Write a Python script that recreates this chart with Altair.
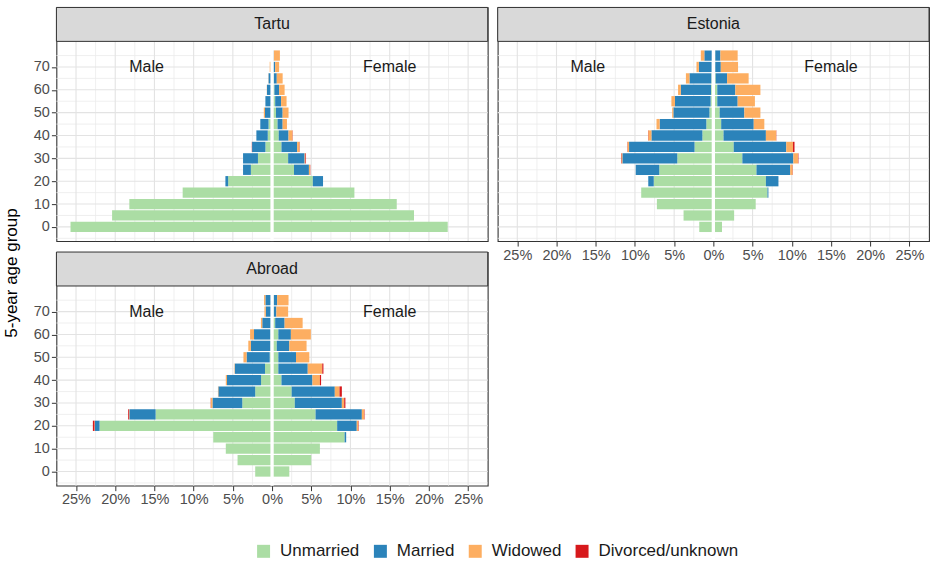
import altair as alt
import pandas as pd

FONT = "Liberation Sans"

# 5-year age groups (start of each group)
AGES = [0, 5, 10, 15, 20, 25, 30, 35, 40, 45, 50, 55, 60, 65, 70, 75]
STATUSES = ["Unmarried", "Married", "Widowed", "Divorced/unknown"]
COLORS = ["#abdda4", "#2b83ba", "#fdae61", "#d7191c"]

# Share of the population (%) per age group and marital status
tartu_male_unmarried = [25.7, 20.4, 18.2, 11.4, 5.6, 2.7, 1.8, 0.85, 0.55, 0.45, 0.15, 0.1, 0.1, 0.05, 0.05, 0.0]
tartu_male_married = [0, 0, 0, 0, 0.35, 1.0, 1.9, 1.7, 1.45, 1.05, 0.75, 0.75, 0.55, 0.4, 0.1, 0.0]
tartu_male_widowed = [0, 0, 0, 0, 0, 0, 0, 0, 0, 0, 0.15, 0, 0.02, 0.02, 0.15, 0.0]
tartu_male_divorced = [0, 0, 0, 0, 0, 0, 0, 0.03, 0, 0, 0, 0, 0, 0, 0, 0]

tartu_female_unmarried = [22.4, 18.1, 15.9, 10.5, 5.2, 2.8, 2.05, 1.2, 0.85, 0.7, 0.5, 0.4, 0.3, 0.2, 0.15, 0.1]
tartu_female_married = [0, 0, 0, 0, 1.3, 1.9, 2.1, 2.0, 1.25, 0.65, 0.85, 0.75, 0.6, 0.4, 0.25, 0.1]
tartu_female_widowed = [0, 0, 0, 0, 0, 0.15, 0.1, 0.3, 0.5, 0.55, 0.75, 0.7, 0.7, 0.75, 0.5, 0.8]
tartu_female_divorced = [0, 0, 0, 0, 0, 0.03, 0.08, 0.03, 0.03, 0, 0, 0, 0, 0, 0, 0]

estonia_male_unmarried = [1.8, 3.8, 7.2, 9.2, 7.6, 6.9, 4.6, 2.4, 1.4, 0.9, 0.5, 0.35, 0.3, 0.25, 0.2, 0.15]
estonia_male_married = [0, 0, 0, 0, 0.7, 3.0, 7.0, 8.35, 6.5, 5.95, 4.6, 4.55, 3.85, 2.8, 1.65, 1.0]
estonia_male_widowed = [0, 0, 0, 0, 0, 0, 0.12, 0.2, 0.4, 0.4, 0.15, 0.45, 0.35, 0.45, 0.3, 0.45]
estonia_male_divorced = [0, 0, 0, 0, 0, 0, 0.05, 0.03, 0.03, 0, 0, 0, 0, 0, 0, 0]

estonia_female_unmarried = [1.1, 2.65, 5.4, 6.9, 6.7, 5.5, 3.7, 2.6, 1.3, 1.0, 0.8, 0.5, 0.5, 0.3, 0.25, 0.25]
estonia_female_married = [0, 0, 0, 0.12, 1.6, 4.3, 6.5, 6.7, 5.4, 4.15, 3.15, 2.6, 2.3, 1.45, 0.7, 0.65]
estonia_female_widowed = [0, 0, 0, 0, 0, 0.3, 0.6, 0.85, 1.3, 1.35, 2.05, 2.2, 3.2, 2.75, 2.2, 2.2]
estonia_female_divorced = [0, 0, 0, 0, 0, 0.03, 0.05, 0.2, 0.03, 0, 0, 0, 0, 0, 0, 0]

abroad_male_unmarried = [2.15, 4.4, 5.9, 7.5, 22.0, 14.85, 3.8, 2.15, 1.4, 0.9, 0.3, 0.2, 0.2, 0.15, 0.1, 0.1]
abroad_male_married = [0, 0, 0, 0, 0.6, 3.35, 3.8, 4.7, 4.35, 3.85, 2.95, 2.5, 2.1, 1.1, 0.7, 0.75]
abroad_male_widowed = [0, 0, 0, 0, 0.05, 0.05, 0.2, 0.05, 0.15, 0.05, 0.4, 0.33, 0.5, 0.17, 0.17, 0.17]
abroad_male_divorced = [0, 0, 0, 0, 0.2, 0.1, 0.03, 0, 0, 0, 0, 0, 0, 0, 0, 0]

abroad_female_unmarried = [2.2, 5.0, 6.1, 9.25, 8.3, 5.55, 2.9, 2.5, 1.2, 0.8, 0.8, 0.6, 0.8, 0.4, 0.2, 0.2]
abroad_female_married = [0, 0, 0, 0.2, 2.5, 5.9, 6.0, 5.5, 3.95, 3.75, 2.25, 1.6, 1.6, 1.2, 0.35, 0.45]
abroad_female_widowed = [0, 0, 0, 0, 0.2, 0.3, 0.3, 0.6, 0.95, 1.85, 1.7, 2.2, 2.55, 2.3, 1.5, 1.45]
abroad_female_divorced = [0, 0, 0, 0, 0.05, 0.05, 0.15, 0.3, 0.15, 0.15, 0, 0, 0, 0, 0, 0]

X_TICKS = [-25, -20, -15, -10, -5, 0, 5, 10, 15, 20, 25]
X_MINOR = [-22.5, -17.5, -12.5, -7.5, -2.5, 2.5, 7.5, 12.5, 17.5, 22.5]
Y_TICKS = [0, 10, 20, 30, 40, 50, 60, 70]
Y_MINOR = [-5, 5, 15, 25, 35, 45, 55, 65, 75]

# panel geometry: strip on top of the plotting region, same view
W, H, STRIP_H = 432, 234, 34
PANEL_TOP = 81.2
X_DOMAIN = [-27.5, 27.5]
Y_DOMAIN = [-6.2, PANEL_TOP + STRIP_H * (PANEL_TOP + 6.2) / (H - STRIP_H)]
HALF_BAR = 2.25

LEGEND = alt.Legend(
    title=None, orient="none", legendX=199, legendY=536, direction="horizontal",
    symbolType="square", symbolSize=169, symbolStrokeWidth=0,
    labelFontSize=17, labelFont=FONT, labelColor="#1A1A1A",
    labelOffset=8, columnPadding=12,
)


def long_table(male, female):
    rows = []
    for sex, sign, groups in (("Male", -1, male), ("Female", 1, female)):
        for k, (status, vals) in enumerate(zip(STATUSES, groups)):
            for age, v in zip(AGES, vals):
                if v > 0:
                    rows.append(dict(sex=sex, age=age, status=status, order=k, value=sign * v))
    return pd.DataFrame(rows)


def panel(title, df, show_x, show_y, y_title=None):
    xscale = alt.Scale(domain=X_DOMAIN, nice=False, zero=False)
    yscale = alt.Scale(domain=Y_DOMAIN, nice=False, zero=False)
    xaxis = alt.Axis(values=X_TICKS, labelExpr="abs(datum.value) + '%'", title=None) if show_x else None
    yaxis = alt.Axis(values=Y_TICKS, title=None) if show_y else None

    def X(f):
        return alt.X(f, scale=xscale, axis=xaxis)

    def Y(f):
        return alt.Y(f, scale=yscale, axis=yaxis)

    grid = [
        alt.Chart(pd.DataFrame({"v": X_MINOR})).mark_rule(color="#EBEBEB", strokeWidth=0.8).encode(x=X("v:Q")),
        alt.Chart(pd.DataFrame({"v": Y_MINOR})).mark_rule(color="#EBEBEB", strokeWidth=0.8).encode(y=Y("v:Q")),
        alt.Chart(pd.DataFrame({"v": X_TICKS})).mark_rule(color="#E3E3E3", strokeWidth=1.1).encode(x=X("v:Q")),
        alt.Chart(pd.DataFrame({"v": Y_TICKS})).mark_rule(color="#E3E3E3", strokeWidth=1.1).encode(y=Y("v:Q")),
    ]

    bars = (
        alt.Chart(df)
        .transform_stack(
            stack="value", groupby=["sex", "age"], as_=["x0", "x1"],
            sort=[alt.SortField("order", order="ascending")],
        )
        .transform_calculate(ylo=f"datum.age - {HALF_BAR}", yhi=f"datum.age + {HALF_BAR}")
        .mark_rect()
        .encode(
            x=X("x0:Q"), x2="x1:Q", y=Y("ylo:Q"), y2="yhi:Q",
            color=alt.Color("status:N", scale=alt.Scale(domain=STATUSES, range=COLORS), legend=LEGEND),
        )
    )

    zero_line = (
        alt.Chart(pd.DataFrame({"v": [0]}))
        .mark_rule(color="white", strokeWidth=3.3)
        .encode(x=X("v:Q"), y=alt.value(STRIP_H), y2=alt.value(H))
    )

    strip = (
        alt.Chart(pd.DataFrame({"t": [title]}))
        .mark_rect(fill="#D9D9D9", stroke="#333333", strokeWidth=1)
        .encode(x=alt.value(0), x2=alt.value(W), y=alt.value(0), y2=alt.value(STRIP_H))
    )
    strip_text = (
        alt.Chart(pd.DataFrame({"t": [title]}))
        .mark_text(fontSize=16, color="#1A1A1A", font=FONT)
        .encode(x=alt.value(W / 2), y=alt.value(STRIP_H / 2), text="t:N")
    )

    sex_labels = (
        alt.Chart(pd.DataFrame({"label": ["Male", "Female"], "x": [-16, 15], "y": [70, 70]}))
        .mark_text(fontSize=16, color="#1A1A1A", font=FONT)
        .encode(x=X("x:Q"), y=Y("y:Q"), text="label:N")
    )

    layers = grid + [bars, zero_line, strip, strip_text, sex_labels]
    if y_title:
        layers.append(
            alt.Chart(pd.DataFrame({"t": [y_title]}))
            .mark_text(fontSize=17, color="#000000", font=FONT, angle=270)
            .encode(x=alt.value(-44), y=alt.value(266), text="t:N")
        )
    return alt.layer(*layers).properties(width=W, height=H)


tartu = panel(
    "Tartu",
    long_table(
        [tartu_male_unmarried, tartu_male_married, tartu_male_widowed, tartu_male_divorced],
        [tartu_female_unmarried, tartu_female_married, tartu_female_widowed, tartu_female_divorced],
    ),
    show_x=False, show_y=True, y_title="5-year age group",
)
estonia = panel(
    "Estonia",
    long_table(
        [estonia_male_unmarried, estonia_male_married, estonia_male_widowed, estonia_male_divorced],
        [estonia_female_unmarried, estonia_female_married, estonia_female_widowed, estonia_female_divorced],
    ),
    show_x=True, show_y=False,
)
abroad = panel(
    "Abroad",
    long_table(
        [abroad_male_unmarried, abroad_male_married, abroad_male_widowed, abroad_male_divorced],
        [abroad_female_unmarried, abroad_female_married, abroad_female_widowed, abroad_female_divorced],
    ),
    show_x=True, show_y=True,
)

chart = (
    alt.concat(tartu, estonia, abroad, columns=2, spacing={"row": 11, "column": 10}, bounds="flush")
    .properties(padding={"left": 2.5, "top": 5, "right": 2, "bottom": 2}, background="white")
    .configure(font=FONT)
    .configure_view(stroke="#333333", strokeWidth=1.1)
    .configure_axis(
        labelFont=FONT, labelFontSize=14.5, labelColor="#4D4D4D",
        tickColor="#333333", tickSize=5, tickWidth=1, domain=False, grid=False, labelPadding=2,
    )
)

chart.save("out.html", embed_options={"renderer": "svg", "actions": False})
